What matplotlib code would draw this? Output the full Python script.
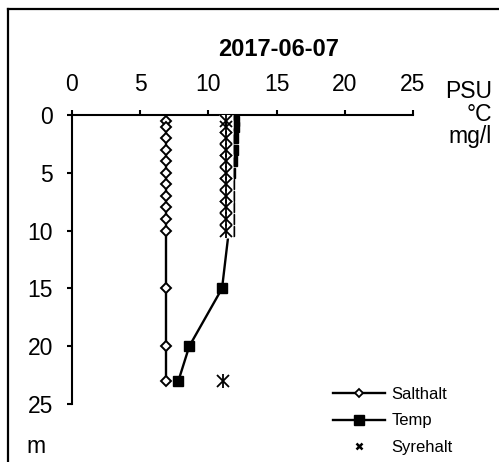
import numpy as np
import matplotlib.pyplot as plt
from matplotlib.lines import Line2D

plt.rcParams['font.family'] = ['Liberation Sans', 'DejaVu Sans']

# data
depth = [0.5, 1, 2, 3, 4, 5, 6, 7, 8, 9, 10, 15, 20, 23]
salthalt = [6.9, 6.9, 6.9, 6.9, 6.9, 6.9, 6.9, 6.9, 6.9, 6.9, 6.9, 6.9, 6.9, 6.9]
temp = [11.9, 11.9, 11.8, 11.8, 11.7, 11.6, 11.5, 11.5, 11.5, 11.5, 11.5, 11.0, 8.6, 7.8]
syre_depth = [0.5, 1, 2, 3, 4, 5, 6, 7, 8, 9, 10, 23]
syrehalt = [11.3, 11.3, 11.3, 11.3, 11.3, 11.3, 11.3, 11.3, 11.3, 11.3, 11.3, 11.1]
title = '2017-06-07'
ticks = [0, 5, 10, 15, 20, 25]

W, H = 499, 462
fig = plt.figure(figsize=(W / 100, H / 100), dpi=100)
ax = fig.add_axes([72 / W, 1 - 404 / H, (413 - 72) / W, (404 - 115) / H])

ax.plot(temp, depth, color='black', lw=1.7, marker='s', ms=7.2,
        mfc='black', mec='black', zorder=2)
ax.plot(syrehalt, syre_depth, ls='none', marker='s', ms=9.5,
        mfc='white', mec='none', zorder=3)
ax.plot(syrehalt, syre_depth, ls='none', marker='x', ms=9.3,
        mew=1.3, color='black', zorder=4)
ax.plot(syrehalt, syre_depth, ls='none', marker='|', ms=9.5,
        mew=1.3, color='black', zorder=4)
ax.plot(salthalt, depth, color='black', lw=1.7, marker='D', ms=5.5,
        mfc='white', mec='black', mew=1.4, zorder=5)

ax.set_xlim(0, 25)
ax.set_ylim(25, 0)
ax.set_xticks(ticks)
ax.set_yticks(ticks)
ax.xaxis.tick_top()
for s in ['right', 'bottom']:
    ax.spines[s].set_visible(False)
for s in ['top', 'left']:
    ax.spines[s].set_linewidth(1.5)
ax.tick_params(axis='both', direction='out', length=3.6, width=1.5,
               labelsize=16.5, pad=10)
ax.patch.set_alpha(0)

fig.text(279 / W, 1 - 49 / H, title, fontsize=17, fontweight='bold',
         ha='center', va='center')
for lab, yb in [('PSU', 98), ('°C', 121), ('mg/l', 143)]:
    fig.text(492 / W, 1 - yb / H, lab, fontsize=16.5, ha='right', va='baseline')
fig.text(26 / W, 1 - 453 / H, 'm', fontsize=16.5, ha='left', va='baseline')

# frame around the figure
fig.add_artist(Line2D([8 / W, 8 / W], [0, 1 - 9 / H], color='black', lw=1.6,
                      transform=fig.transFigure))
fig.add_artist(Line2D([8 / W, 1], [1 - 9 / H, 1 - 9 / H], color='black', lw=1.6,
                      transform=fig.transFigure))

handles = [
    Line2D([], [], color='black', lw=1.7, marker='D', ms=4, mfc='white', mec='black', mew=1.3),
    Line2D([], [], color='black', lw=1.7, marker='s', ms=7),
    Line2D([], [], ls='none', marker='x', ms=4.5, mew=1.8, color='black'),
]
fig.legend(handles, ['Salthalt', 'Temp', 'Syrehalt'], loc='upper left',
           bbox_to_anchor=(333 / W, 1 - 387 / H), bbox_transform=fig.transFigure,
           frameon=False, fontsize=12, handlelength=3.1, handletextpad=0.4,
           labelspacing=0.68, borderpad=0, borderaxespad=0)

fig.savefig('out.png', dpi=100)
